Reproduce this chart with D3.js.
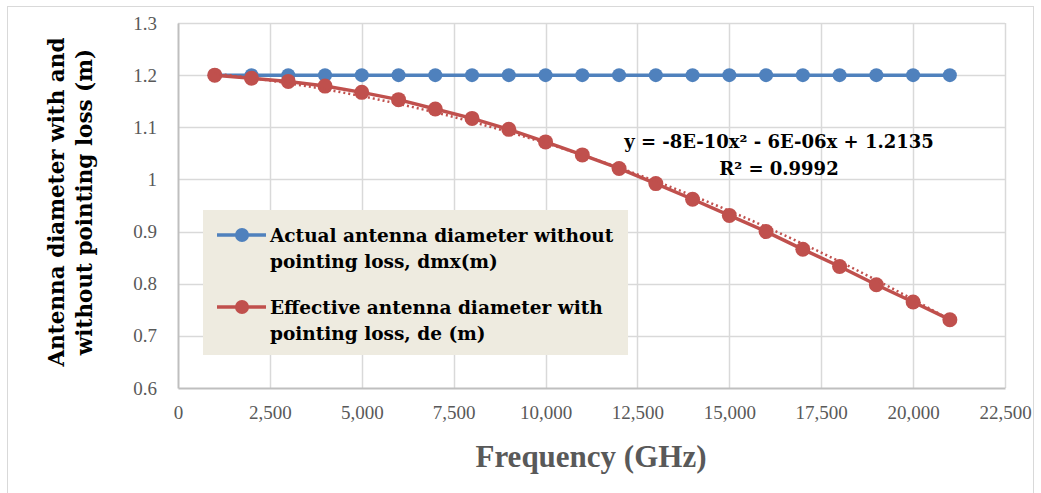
<!DOCTYPE html>
<html>
<head>
<meta charset="utf-8">
<script src="https://cdn.jsdelivr.net/npm/d3@7"></script>
<style>
  body { margin: 0; background: #fff; }
  svg { display: block; font-family: "Liberation Serif", serif; }
  .bold-text { font-family: "DejaVu Serif", serif; font-weight: bold; }
</style>
</head>
<body>
<div id="chart"></div>
<script>
const width = 1041;
const height = 493;
const margin = { top: 23, right: 36, bottom: 105, left: 178 };

const frequencies = [1000, 2000, 3000, 4000, 5000, 6000, 7000, 8000, 9000, 10000,
  11000, 12000, 13000, 14000, 15000, 16000, 17000, 18000, 19000, 20000, 21000];
const actualDiameter = [1.2, 1.2, 1.2, 1.2, 1.2, 1.2, 1.2, 1.2, 1.2, 1.2,
  1.2, 1.2, 1.2, 1.2, 1.2, 1.2, 1.2, 1.2, 1.2, 1.2, 1.2];
const effectiveDiameter = [1.2, 1.194, 1.188, 1.179, 1.167, 1.153, 1.135, 1.117, 1.096, 1.072,
  1.047, 1.021, 0.992, 0.962, 0.931, 0.900, 0.866, 0.833, 0.798, 0.765, 0.731];
// polynomial trendline coefficients as printed on the chart (c0, c1, c2)
const trendCoef = [1.2135, -6e-6, -8e-10];
const xTicks = [0, 2500, 5000, 7500, 10000, 12500, 15000, 17500, 20000, 22500];
const yTicks = [0.6, 0.7, 0.8, 0.9, 1.0, 1.1, 1.2, 1.3];

const colors = { actual: "#4f81bd", effective: "#c0504d" };

const svg = d3.select("#chart")
  .append("svg")
  .attr("width", width)
  .attr("height", height);

// outer chart frame
svg.append("rect")
  .attr("x", 7.5).attr("y", 6.5)
  .attr("width", 1026).attr("height", 500)
  .attr("fill", "#fff")
  .attr("stroke", "#d9d9d9");

const x = d3.scaleLinear()
  .domain([0, 22500])
  .range([margin.left, width - margin.right]);

const y = d3.scaleLinear()
  .domain([0.6, 1.3])
  .range([height - margin.bottom, margin.top]);

// gridlines
svg.append("g")
  .selectAll("line")
  .data(yTicks.slice(1))
  .join("line")
  .attr("x1", x(0)).attr("x2", x(22500))
  .attr("y1", d => Math.round(y(d)) + 0.5)
  .attr("y2", d => Math.round(y(d)) + 0.5)
  .attr("stroke", "#d9d9d9").attr("stroke-width", 1.5);

svg.append("g")
  .selectAll("line")
  .data(xTicks.slice(1))
  .join("line")
  .attr("x1", d => Math.round(x(d)) + 0.5)
  .attr("x2", d => Math.round(x(d)) + 0.5)
  .attr("y1", y(0.6)).attr("y2", y(1.3))
  .attr("stroke", "#d9d9d9").attr("stroke-width", 1.5);

// axes
const xAxis = svg.append("g")
  .attr("transform", `translate(0, ${y(0.6)})`)
  .call(d3.axisBottom(x).tickValues(xTicks).tickFormat(d3.format(",")).tickSize(0).tickPadding(18));

const yAxis = svg.append("g")
  .attr("transform", `translate(${x(0)}, 0)`)
  .call(d3.axisLeft(y).tickValues(yTicks).tickFormat(d => d3.format("")(+d.toFixed(1))).tickSize(0).tickPadding(21));

[xAxis, yAxis].forEach(g => {
  g.select(".domain").attr("stroke", "#bfbfbf").attr("stroke-width", 2);
  g.selectAll("text")
    .attr("fill", "#595959")
    .style("font-family", "'Liberation Serif', serif")
    .style("font-size", "19px");
});

// axis titles
svg.append("text")
  .attr("x", 591)
  .attr("y", 467)
  .attr("text-anchor", "middle")
  .attr("fill", "#595959")
  .style("font-size", "31px")
  .style("font-weight", "bold")
  .text("Frequency (GHz)");

const yTitle = svg.append("text")
  .attr("class", "bold-text")
  .attr("transform", "translate(64, 202) rotate(-90)")
  .attr("text-anchor", "middle")
  .attr("fill", "#000")
  .style("font-size", "21.5px");
yTitle.append("tspan").attr("x", 0).attr("y", 0).text("Antenna diameter with and");
yTitle.append("tspan").attr("x", 0).attr("y", 28).text("without pointing loss (m)");

// series
const actualData = frequencies.map((f, i) => ({ f, v: actualDiameter[i] }));
const effectiveData = frequencies.map((f, i) => ({ f, v: effectiveDiameter[i] }));
const trendData = frequencies.map(f => ({ f, v: trendCoef[0] + trendCoef[1] * f + trendCoef[2] * f * f }));

const line = d3.line()
  .x(d => x(d.f))
  .y(d => y(d.v));

svg.append("path")
  .datum(actualData)
  .attr("fill", "none")
  .attr("stroke", colors.actual)
  .attr("stroke-width", 3.5)
  .attr("d", line);

svg.append("g")
  .selectAll("circle")
  .data(actualData)
  .join("circle")
  .attr("cx", d => x(d.f))
  .attr("cy", d => y(d.v))
  .attr("r", 7)
  .attr("fill", colors.actual);

svg.append("path")
  .datum(effectiveData)
  .attr("fill", "none")
  .attr("stroke", colors.effective)
  .attr("stroke-width", 3.5)
  .attr("d", line);

svg.append("g")
  .selectAll("circle")
  .data(effectiveData)
  .join("circle")
  .attr("cx", d => x(d.f))
  .attr("cy", d => y(d.v))
  .attr("r", 7.5)
  .attr("fill", colors.effective);

svg.append("path")
  .datum(trendData)
  .attr("fill", "none")
  .attr("stroke", colors.effective)
  .attr("stroke-width", 2.5)
  .attr("stroke-dasharray", "2,3")
  .attr("d", d3.line().curve(d3.curveMonotoneX).x(d => x(d.f)).y(d => y(d.v) + 2));

// trendline label
const eq = svg.append("text")
  .attr("class", "bold-text")
  .attr("text-anchor", "middle")
  .attr("fill", "#000")
  .style("font-size", "18px");
eq.append("tspan").attr("x", 779).attr("y", 148).text("y = -8E-10x² - 6E-06x + 1.2135");
eq.append("tspan").attr("x", 779).attr("y", 175).text("R² = 0.9992");

// legend
const legend = svg.append("g");
legend.append("rect")
  .attr("x", 203).attr("y", 210)
  .attr("width", 425).attr("height", 145)
  .attr("fill", "#eeebe0");

const legendItems = [
  { key: "actual", lines: ["Actual antenna diameter without", "pointing loss, dmx(m)"], y: 235 },
  { key: "effective", lines: ["Effective antenna diameter with", "pointing loss, de (m)"], y: 307 }
];

const item = legend.selectAll(".item")
  .data(legendItems)
  .join("g")
  .attr("class", "item")
  .attr("transform", d => `translate(0, ${d.y})`);

item.append("line")
  .attr("x1", 217).attr("x2", 266)
  .attr("stroke", d => colors[d.key])
  .attr("stroke-width", 3.5);

item.append("circle")
  .attr("cx", 242).attr("r", 7)
  .attr("fill", d => colors[d.key]);

item.append("text")
  .attr("class", "bold-text")
  .attr("fill", "#000")
  .style("font-size", "18.5px")
  .selectAll("tspan")
  .data(d => d.lines)
  .join("tspan")
  .attr("x", 270)
  .attr("y", (d, i) => 7 + i * 26)
  .text(d => d);
</script>
</body>
</html>
